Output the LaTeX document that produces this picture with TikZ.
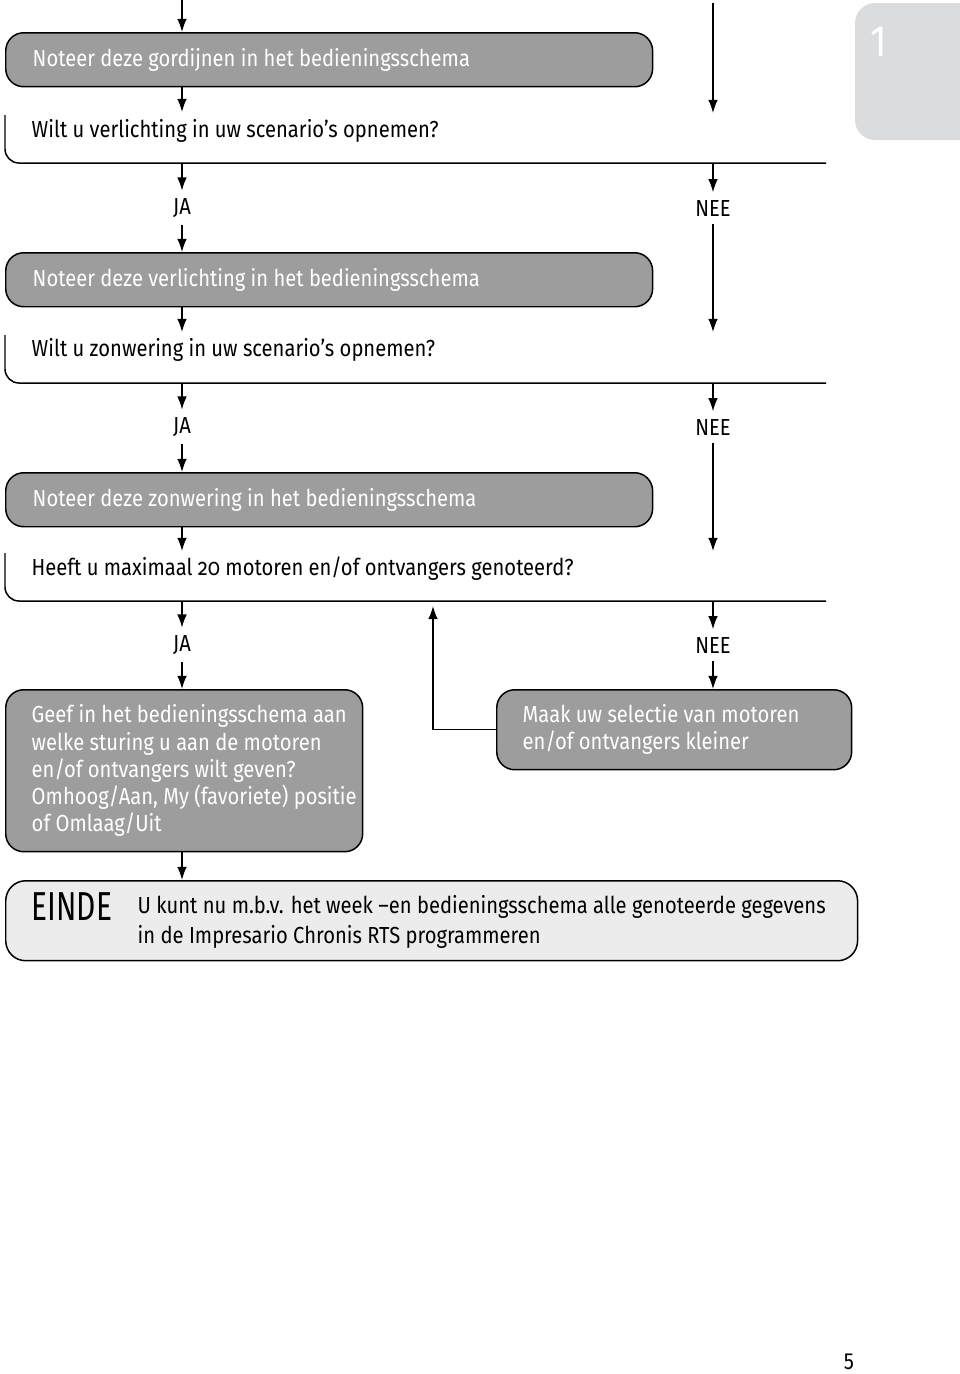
\documentclass[tikz,border=0pt]{standalone}
\usepackage{fontspec}
\setmainfont{Fira Sans}[FakeStretch=0.87]
\newfontfamily\eindefont{Fira Sans}[FakeStretch=0.74]
\usepackage{tikz}
\usetikzlibrary{arrows.meta, positioning}

\definecolor{blokgrijs}{RGB}{157,157,157}
\definecolor{eindgrijs}{RGB}{236,236,236}
\definecolor{tabgrijs}{RGB}{219,220,221}

\begin{document}
\begin{tikzpicture}[x=0.02cm, y=-0.02cm, line width=0.85pt]
        \useasboundingbox (0,0) rectangle (960,1374);
        \tikzstyle{pijl}  = [-{Latex[length=7.5pt, width=5.5pt]}]
        \tikzstyle{tekst} = [font=\fontsize{13.2}{15.5}\selectfont]
        \tikzstyle{witte} = [tekst, text=white, align=flush left]
        \tikzstyle{blok}  = [witte, draw, fill=blokgrijs, rounded corners=0.36cm,
                             anchor=north west, inner xsep=0.54cm]
        \tikzstyle{vraag} = [tekst, anchor=west, inner sep=0pt]
        \tikzstyle{keuze} = [tekst, inner sep=4pt]

        % Tab met hoofdstuknummer.
        \fill[tabgrijs, rounded corners=0.4cm] (855,3) rectangle (1000,140);
        \node[font=\fontsize{25}{25}\selectfont, text=white] (hoofdstuk) at (879,42) {1};

        % Blokken.
        \node[blok, minimum height=1.08cm, text width=11.86cm] (gordijnen) at (5,32)
            {Noteer deze gordijnen in het bedieningsschema};
        \node[blok, minimum height=1.08cm, text width=11.86cm] (verlichting) at (5,252)
            {Noteer deze verlichting in het bedieningsschema};
        \node[blok, minimum height=1.08cm, text width=11.86cm] (zonwering) at (5,472)
            {Noteer deze zonwering in het bedieningsschema};
        \node[blok, minimum width=7.14cm, minimum height=3.24cm] (sturing) at (5,689) {};
        \node[witte, anchor=north west, inner sep=0pt] (sturingtekst) at (31,704)
            {Geef in het bedieningsschema aan\\welke sturing u aan de motoren\\en/of ontvangers wilt geven?\\Omhoog/Aan, My (favoriete) positie\\of Omlaag/Uit};
        \node[blok, minimum height=1.6cm, text width=6.06cm, inner xsep=0.52cm] (selectie) at (496,689)
            {Maak uw selectie van motoren\\en/of ontvangers kleiner};
        \node[draw, fill=eindgrijs, rounded corners=0.4cm, anchor=north west,
              minimum width=17.04cm, minimum height=1.6cm] (einde) at (5,880) {};
        \node[font=\eindefont\fontsize{23}{23}\selectfont, anchor=west, inner sep=0pt] (eindetitel) at (31,907) {EINDE};
        \node[font=\fontsize{13.2}{16.6}\selectfont, anchor=north west, align=left, inner sep=0pt] (eindetekst) at (137,895)
            {U kunt nu m.b.v. het week –en bedieningsschema alle genoteerde gegevens\\in de Impresario Chronis RTS programmeren};

        % Vragen.
        \node[vraag] (vraag1) at (31,131) {Wilt u verlichting in uw scenario’s opnemen?};
        \node[vraag] (vraag2) at (31,350) {Wilt u zonwering in uw scenario’s opnemen?};
        \node[vraag] (vraag3) at (31,569) {Heeft u maximaal {\addfontfeature{Numbers=OldStyle}20} motoren en/of ontvangers genoteerd?};
        \draw[rounded corners=0.28cm] (5,115) -- (5,163) -- (826,163) coordinate (lijn1);
        \draw[rounded corners=0.28cm] (5,335) -- (5,383) -- (826,383) coordinate (lijn2);
        \draw[rounded corners=0.28cm] (5,553) -- (5,601) -- (826,601) coordinate (lijn3);

        % Keuzes.
        \node[keuze] (ja1)  at (182,208) {JA};
        \node[keuze] (nee1) at (713,208) {NEE};
        \node[keuze] (ja2)  at (182,427) {JA};
        \node[keuze] (nee2) at (713,427) {NEE};
        \node[keuze] (ja3)  at (182,645) {JA};
        \node[keuze] (nee3) at (713,645) {NEE};

        % Vrije eindpunten.
        \coordinate (begin)  at (182,0);
        \coordinate (beginn) at (713,3);
        \coordinate (doel1)  at (182,112);
        \coordinate (doeln1) at (713,113);
        \coordinate (doel2)  at (182,332);
        \coordinate (doeln2) at (713,332);
        \coordinate (doel3)  at (182,551);
        \coordinate (doeln3) at (713,551);
        \coordinate (terug)  at (433,606);

        % Pijlen.
        \path[pijl]
            (begin) edge (begin |- gordijnen.north)
            (beginn) edge (doeln1)
            (ja1 |- gordijnen.south) edge (doel1)
            (ja1 |- lijn1) edge (ja1)
            (nee1 |- lijn1) edge (nee1)
            (ja1) edge (ja1 |- verlichting.north)
            (nee1) edge (doeln2)
            (ja2 |- verlichting.south) edge (doel2)
            (ja2 |- lijn2) edge (ja2)
            (nee2 |- lijn2) edge (nee2)
            (ja2) edge (ja2 |- zonwering.north)
            (nee2) edge (doeln3)
            (ja3 |- zonwering.south) edge (doel3)
            (ja3 |- lijn3) edge (ja3)
            (nee3 |- lijn3) edge (nee3)
            (ja3) edge (ja3 |- sturing.north)
            (nee3) edge (nee3 |- selectie.north)
            (ja3 |- sturing.south) edge (ja3 |- einde.north);
        \draw[pijl] (selectie.west) -| (terug);

        % Paginanummer.
        \node[tekst, inner sep=0pt] (pagina) at (849,1362) {5};
    \end{tikzpicture}
\end{document}
